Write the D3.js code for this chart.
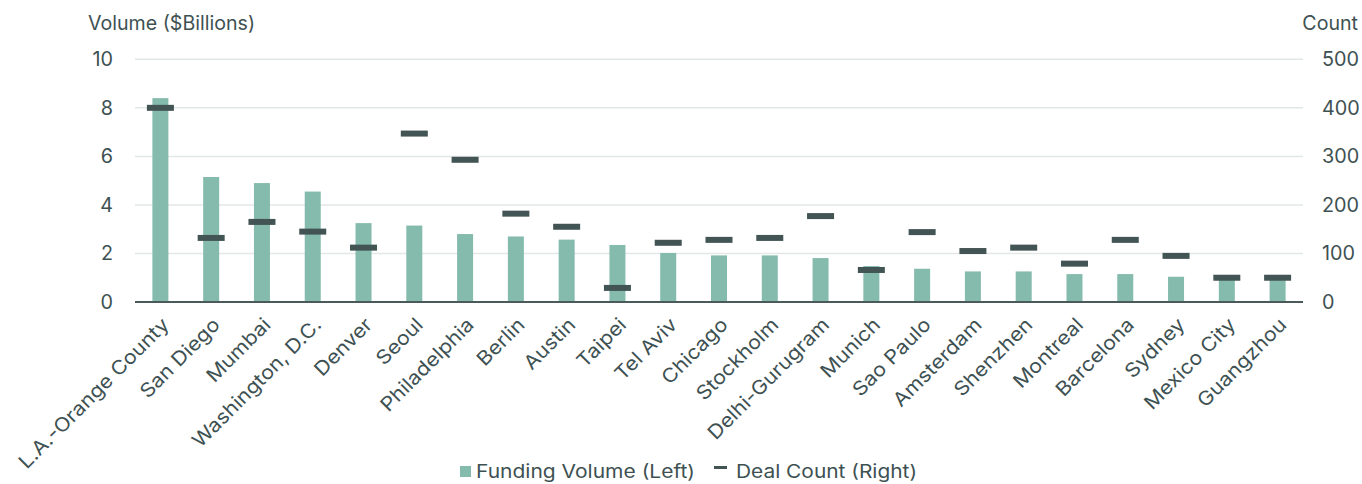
<!DOCTYPE html>
<html>
<head>
<meta charset="utf-8">
<script src="https://cdn.jsdelivr.net/npm/d3@7"></script>
<style>
  html, body { margin: 0; padding: 0; background: #ffffff; }
  svg { display: block; }
</style>
</head>
<body>
<svg id="chart" width="1362" height="484"></svg>
<script>
// Top cities by funding volume, with deal counts on a secondary axis
const cities = [
  "L.A.-Orange County", "San Diego", "Mumbai", "Washington, D.C.", "Denver",
  "Seoul", "Philadelphia", "Berlin", "Austin", "Taipei", "Tel Aviv", "Chicago",
  "Stockholm", "Delhi-Gurugram", "Munich", "Sao Paulo", "Amsterdam", "Shenzhen",
  "Montreal", "Barcelona", "Sydney", "Mexico City", "Guangzhou"
];
const fundingVolume = [
  8.4, 5.15, 4.9, 4.55, 3.25, 3.15, 2.8, 2.7, 2.57, 2.35, 2.02, 1.92,
  1.92, 1.81, 1.48, 1.37, 1.26, 1.26, 1.15, 1.15, 1.04, 1.0, 1.0
];
const dealCount = [
  400, 132, 165, 145, 112, 347, 293, 182, 155, 29, 122, 128,
  132, 177, 66, 144, 105, 112, 79, 128, 95, 50, 50
];
const leftTicks = [0, 2, 4, 6, 8, 10];
const rightTicks = [0, 100, 200, 300, 400, 500];
const legendLabels = ["Funding Volume (Left)", "Deal Count (Right)"];

const textColor = "#3e5152";
const barColor = "#84bbad";
const dashColor = "#435454";
const gridColor = "#e2e8e6";
const axisFont = "Inter, 'DejaVu Sans', sans-serif";

const svg = d3.select("#chart");
const plotLeft = 135, plotRight = 1303, plotTop = 59.3, plotBottom = 302;

const x = d3.scaleBand().domain(cities).range([plotLeft, plotRight]).paddingInner(0).paddingOuter(0);
const yL = d3.scaleLinear().domain([0, 10]).range([plotBottom, plotTop]);
const yR = d3.scaleLinear().domain([0, 500]).range([plotBottom, plotTop]);

// Horizontal gridlines
svg.append("g").selectAll("line").data(leftTicks.filter(d => d > 0)).join("line")
  .attr("x1", plotLeft).attr("x2", plotRight)
  .attr("y1", d => yL(d)).attr("y2", d => yL(d))
  .attr("stroke", gridColor).attr("stroke-width", 1.5);

// Funding volume bars
const barW = 16;
svg.append("g").selectAll("rect").data(fundingVolume).join("rect")
  .attr("x", (d, i) => x(cities[i]) + x.bandwidth() / 2 - barW / 2)
  .attr("width", barW)
  .attr("y", d => yL(d))
  .attr("height", d => plotBottom - yL(d))
  .attr("fill", barColor);

// Baseline
svg.append("line")
  .attr("x1", plotLeft).attr("x2", plotRight)
  .attr("y1", plotBottom).attr("y2", plotBottom)
  .attr("stroke", "#4a5959").attr("stroke-width", 2);

// Deal count markers
const dashW = 27, dashH = 6;
svg.append("g").selectAll("rect").data(dealCount).join("rect")
  .attr("x", (d, i) => x(cities[i]) + x.bandwidth() / 2 - dashW / 2)
  .attr("width", dashW)
  .attr("y", d => yR(d) - dashH / 2)
  .attr("height", dashH)
  .attr("fill", dashColor);

// Left axis
const axL = svg.append("g")
  .attr("transform", `translate(${plotLeft},0)`)
  .call(d3.axisLeft(yL).tickValues(leftTicks).tickSize(0).tickPadding(22));
axL.select(".domain").remove();
axL.selectAll("text")
  .attr("font-family", axisFont).attr("font-size", 19.8)
  .attr("fill", textColor);

// Right axis
const axR = svg.append("g")
  .attr("transform", `translate(${plotRight},0)`)
  .call(d3.axisRight(yR).tickValues(rightTicks).tickSize(0).tickPadding(19));
axR.select(".domain").remove();
axR.selectAll("text")
  .attr("font-family", axisFont).attr("font-size", 19.8)
  .attr("fill", textColor);

// Axis titles
svg.append("text").attr("x", 88).attr("y", 30)
  .attr("font-family", axisFont).attr("font-size", 19.6).attr("fill", textColor)
  .text("Volume ($Billions)");
svg.append("text").attr("x", 1358).attr("y", 30).attr("text-anchor", "end")
  .attr("font-family", axisFont).attr("font-size", 19.6).attr("fill", textColor)
  .text("Count");

// Category labels, rotated and slightly widened
svg.append("g").selectAll("text").data(cities).join("text")
  .attr("text-anchor", "end")
  .attr("transform", d => `translate(${x(d) + x.bandwidth() / 2 + 10},${plotBottom + 24}) rotate(-45) scale(1.1,1)`)
  .attr("font-family", axisFont).attr("font-size", 19.5)
  .attr("fill", textColor)
  .text(d => d);

// Legend
const lg = svg.append("g");
lg.append("rect").attr("x", 460).attr("y", 466).attr("width", 11).attr("height", 11).attr("fill", barColor);
lg.append("text").attr("x", 476).attr("y", 478)
  .attr("font-family", axisFont).attr("font-size", 18.5).attr("fill", textColor)
  .attr("textLength", 219).attr("lengthAdjust", "spacingAndGlyphs")
  .text(legendLabels[0]);
lg.append("rect").attr("x", 714).attr("y", 466).attr("width", 13).attr("height", 3).attr("fill", dashColor);
lg.append("text").attr("x", 736).attr("y", 478)
  .attr("font-family", axisFont).attr("font-size", 18.5).attr("fill", textColor)
  .attr("textLength", 181).attr("lengthAdjust", "spacingAndGlyphs")
  .text(legendLabels[1]);
</script>
</body>
</html>
